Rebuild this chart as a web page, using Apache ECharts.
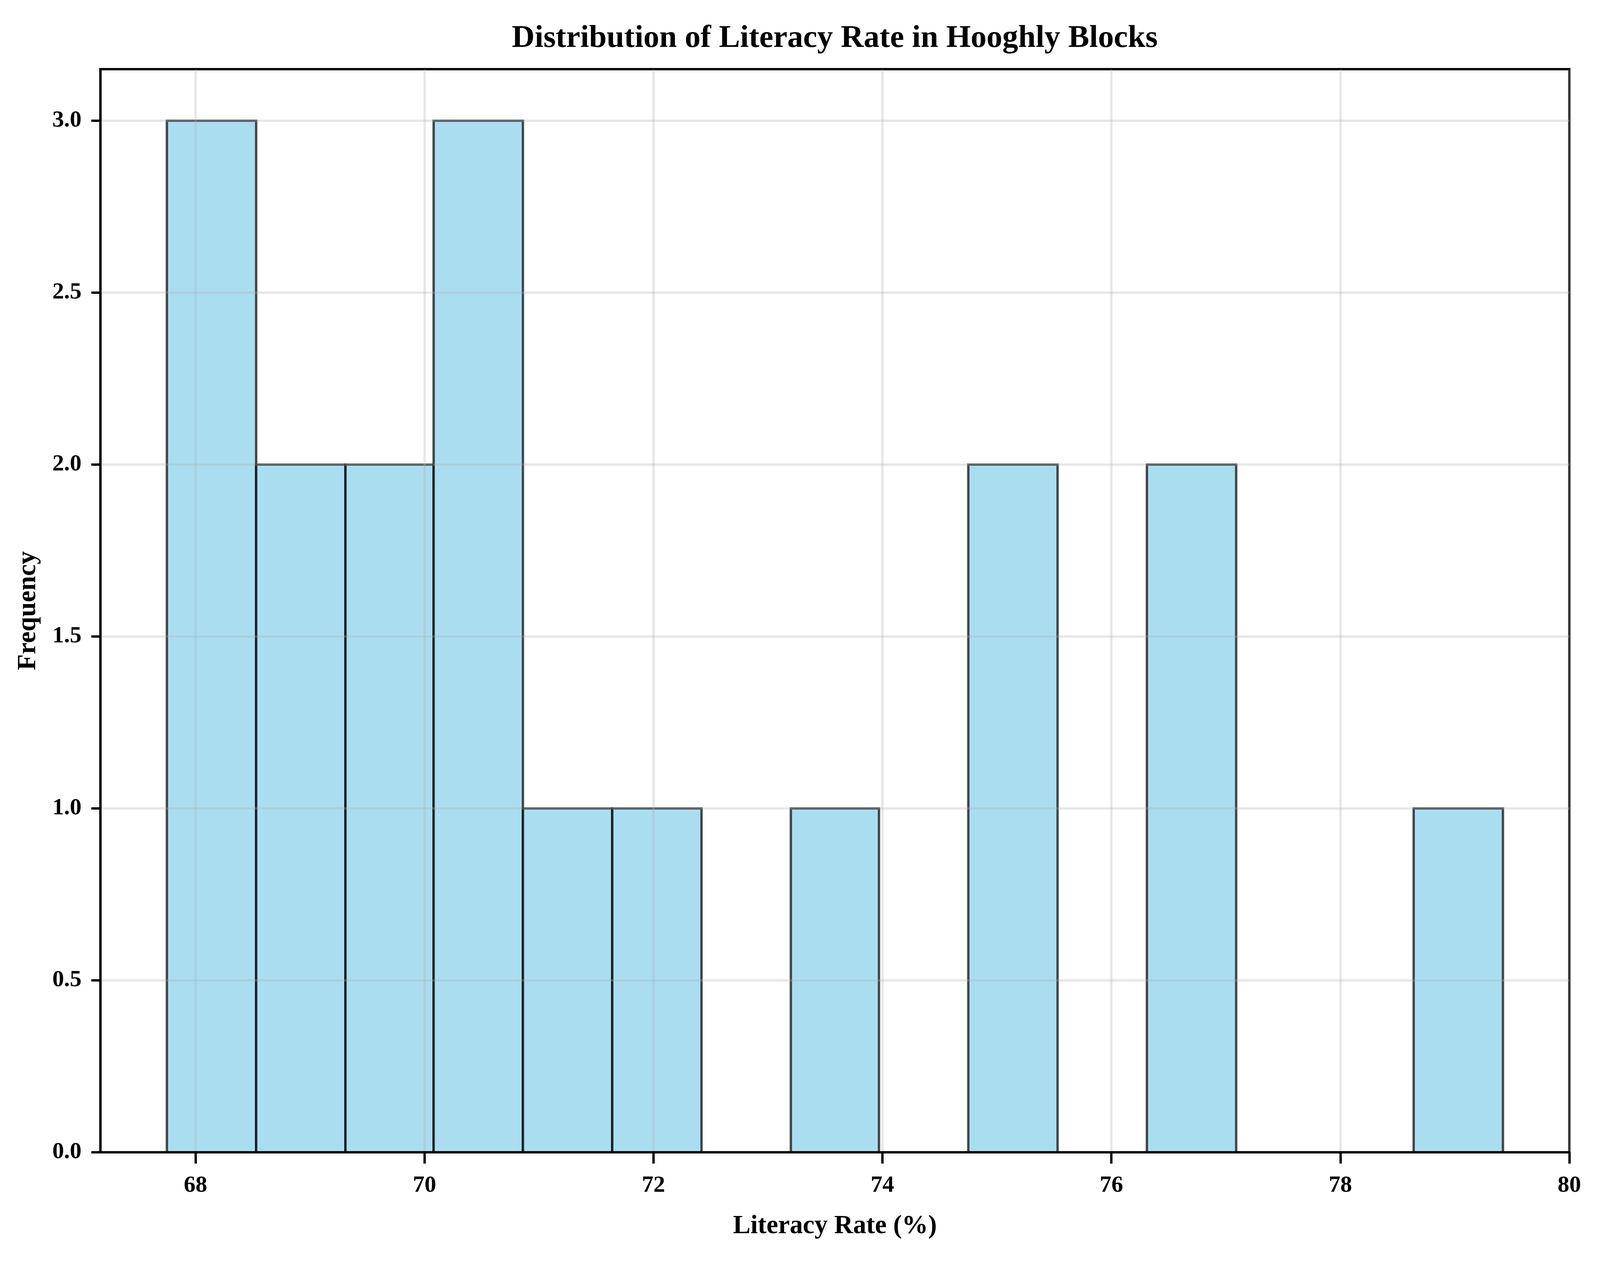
<!DOCTYPE html>
<html>
<head>
<meta charset="utf-8">
<script src="https://cdn.jsdelivr.net/npm/echarts@6/dist/echarts.min.js"></script>
<style>
  html, body { margin: 0; padding: 0; background: #fff; overflow: hidden; }
  #main { width: 100vw; height: 100vh; }
</style>
</head>
<body>
<div id="main"></div>
<script>
// histogram bin edges (15 bins) and counts
var binEdges = [67.75, 68.53, 69.31, 70.08, 70.86, 71.64, 72.42, 73.20,
                73.97, 74.75, 75.53, 76.31, 77.09, 77.86, 78.64, 79.42];
var counts = [3, 2, 2, 3, 1, 1, 0, 1, 0, 2, 0, 2, 0, 0, 1];

var xTicks = [68, 70, 72, 74, 76, 78, 80];
var yTicks = [0, 0.5, 1.0, 1.5, 2.0, 2.5, 3.0];

var FONT = 'Liberation Serif';

// layout measured on the 5064x3240 reference, mapped onto the real viewport
var SX = window.innerWidth / 5064;
var SY = window.innerHeight / 3240;
var SF = SX;                       // font scale (keeps text widths in proportion)
function fx(v) { return v * SX; }
function fy(v) { return v * SY; }
var LW = 6.7 * Math.sqrt(SX * SY);

var TICK_FONT = 74 * SF, LABEL_FONT = 83 * SF, TITLE_FONT = 100 * SF;

var myChart = echarts.init(document.getElementById('main'), null, { renderer: 'canvas' });

var histData = [];
for (var i = 0; i < counts.length; i++) {
  histData.push([binEdges[i], binEdges[i + 1], counts[i]]);
}

function renderBar(params, api) {
  if (api.value(2) === 0) {
    return null;
  }
  var p0 = api.coord([api.value(0), api.value(2)]);
  var p1 = api.coord([api.value(1), 0]);
  return {
    type: 'rect',
    shape: { x: p0[0], y: p0[1], width: p1[0] - p0[0], height: p1[1] - p0[1] },
    style: {
      fill: 'rgba(135,206,235,0.7)',
      stroke: 'rgba(0,0,0,0.7)',
      lineWidth: LW
    }
  };
}

myChart.setOption({
  backgroundColor: '#fff',
  animation: false,
  title: {
    text: 'Distribution of Literacy Rate in Hooghly Blocks',
    left: fx(2642),
    top: fy(95) - 0.45 * TITLE_FONT,
    padding: 0,
    textAlign: 'center',
    textStyle: { fontFamily: FONT, fontWeight: 'bold', fontSize: TITLE_FONT, color: '#000' }
  },
  grid: {
    left: fx(318), right: fx(97), top: fy(177), bottom: fy(291),
    show: true,
    borderColor: '#000',
    borderWidth: LW,
    backgroundColor: 'transparent',
    outerBoundsMode: 'none'
  },
  xAxis: {
    type: 'value',
    min: 67.17,
    max: 80,
    z: 3,
    name: 'Literacy Rate (%)',
    nameLocation: 'middle',
    nameGap: fy(186.5) - 0.455 * LABEL_FONT,
    nameTextStyle: { fontFamily: FONT, fontWeight: 'bold', fontSize: LABEL_FONT, color: '#000' },
    axisLine: { show: true, onZero: false, lineStyle: { color: '#000', width: LW } },
    axisTick: { show: true, inside: false, length: fy(29), customValues: xTicks, lineStyle: { color: '#000', width: LW } },
    axisLabel: {
      show: true, margin: fy(83) - 0.455 * TICK_FONT, customValues: xTicks,
      fontFamily: FONT, fontWeight: 'bold', fontSize: TICK_FONT, color: '#000',
      formatter: function (v) { return String(Math.round(v)); }
    },
    splitLine: { show: true, lineStyle: { color: 'rgba(176,176,176,0.3)', width: LW } }
  },
  yAxis: {
    type: 'value',
    min: 0,
    max: 3.15,
    z: 3,
    name: 'Frequency',
    nameLocation: 'middle',
    nameRotate: 90,
    nameGap: fx(187),
    nameTextStyle: { fontFamily: FONT, fontWeight: 'bold', fontSize: LABEL_FONT, color: '#000' },
    axisLine: { show: true, onZero: false, lineStyle: { color: '#000', width: LW } },
    axisTick: { show: true, inside: false, length: fx(29), customValues: yTicks, lineStyle: { color: '#000', width: LW } },
    axisLabel: {
      show: true, margin: fx(60), customValues: yTicks,
      fontFamily: FONT, fontWeight: 'bold', fontSize: TICK_FONT, color: '#000',
      formatter: function (v) { return v.toFixed(1); }
    },
    splitLine: { show: true, lineStyle: { color: 'rgba(176,176,176,0.3)', width: LW } }
  },
  series: [{
    type: 'custom',
    renderItem: renderBar,
    encode: { x: [0, 1], y: 2 },
    data: histData,
    z: 2
  }]
});

window.onresize = myChart.resize;
</script>
</body>
</html>
